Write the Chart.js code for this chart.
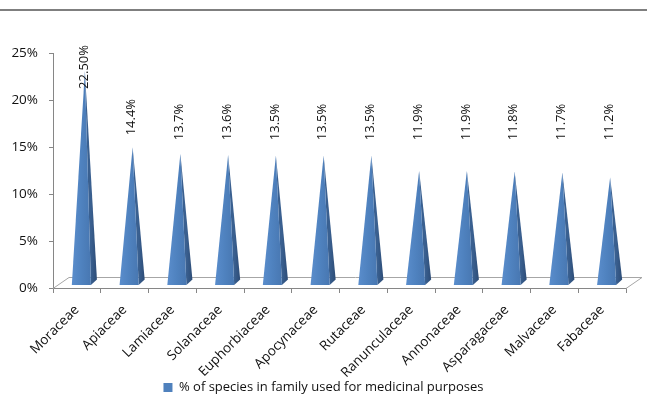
<!DOCTYPE html>
<html>
<head>
<meta charset="utf-8">
<script src="https://cdn.jsdelivr.net/npm/chart.js@4/dist/chart.umd.min.js"></script>
<style>
  html, body { margin: 0; padding: 0; background: #ffffff; }
  #wrap { position: relative; width: 647px; height: 396px; overflow: hidden; }
  #rule { position: absolute; left: 0; top: 9px; width: 647px; height: 2px; background: #7f7f7f; }
  canvas { display: block; }
</style>
</head>
<body>
<div id="wrap">
  <canvas id="chart" width="647" height="396"></canvas>
  <div id="rule"></div>
</div>
<script>
// Plant families and the share of their species used medicinally (%)
const families = ['Moraceae', 'Apiaceae', 'Lamiaceae', 'Solanaceae', 'Euphorbiaceae', 'Apocynaceae',
  'Rutaceae', 'Ranunculaceae', 'Annonaceae', 'Asparagaceae', 'Malvaceae', 'Fabaceae'];
const medicinalShare = [22.5, 14.4, 13.7, 13.6, 13.5, 13.5, 13.5, 11.9, 11.9, 11.8, 11.7, 11.2];
const shareLabels = ['22.50%', '14.4%', '13.7%', '13.6%', '13.5%', '13.5%', '13.5%', '11.9%', '11.9%', '11.8%', '11.7%', '11.2%'];
const yTicks = [0, 5, 10, 15, 20, 25];
const seriesName = '% of species in family used for medicinal purposes';

const FONT = "'Open Sans', 'Liberation Sans', sans-serif";
const AXIS_GREY = '#868686';
const FLOOR_GREY = '#a6a6a6';
const BLUE = '#4F81BD';
const DEPTH = { x: 16, y: 11 };

// Draws the 3-D floor behind the marks and a pyramid for every bar element
const pyramid3d = {
  id: 'pyramid3d',
  beforeDatasetsDraw(chart) {
    const { ctx, chartArea: a } = chart;
    ctx.save();
    ctx.strokeStyle = FLOOR_GREY;
    ctx.lineWidth = 1;
    ctx.beginPath();
    ctx.moveTo(a.left, a.bottom + 0.5);
    ctx.lineTo(a.left + DEPTH.x, a.bottom - DEPTH.y + 0.5);
    ctx.lineTo(a.right + DEPTH.x, a.bottom - DEPTH.y + 0.5);
    ctx.lineTo(a.right, a.bottom + 0.5);
    ctx.stroke();
    ctx.restore();
  },
  afterDatasetsDraw(chart) {
    const { ctx, chartArea: a } = chart;
    const meta = chart.getDatasetMeta(0);
    ctx.save();
    meta.data.forEach((el, i) => {
      const { x, y, base, width } = el.getProps(['x', 'y', 'base', 'width'], true);
      const cx = x + 4.5;
      const frontY = base - 2.5;
      const left = cx - width / 2;
      const right = cx + width / 2;
      const apexX = x + 8;
      const apexY = y - 5.5;

      // right (shadowed) face
      const sg = ctx.createLinearGradient(right, 0, right + 6, 0);
      sg.addColorStop(0, '#3a6090');
      sg.addColorStop(1, '#2d4c76');
      ctx.fillStyle = sg;
      ctx.beginPath();
      ctx.moveTo(right, frontY);
      ctx.lineTo(right + 6, base - 8);
      ctx.lineTo(apexX, apexY);
      ctx.closePath();
      ctx.fill();

      // front face
      const fg = ctx.createLinearGradient(left, 0, right, 0);
      fg.addColorStop(0, '#5a8dcc');
      fg.addColorStop(0.5, '#4f82bf');
      fg.addColorStop(1, '#4877b1');
      ctx.fillStyle = fg;
      ctx.beginPath();
      ctx.moveTo(left, frontY);
      ctx.lineTo(right, frontY);
      ctx.lineTo(apexX, apexY);
      ctx.closePath();
      ctx.fill();

      // value label, written vertically above the tip
      ctx.font = '13px ' + FONT;
      const tw = ctx.measureText(shareLabels[i]).width;
      let cy = Math.min(a.top + 69, apexY - 30);
      cy = Math.max(cy, a.top - 8 + tw / 2);
      ctx.save();
      ctx.translate(apexX - 1, cy);
      ctx.rotate(-Math.PI / 2);
      ctx.fillStyle = '#111111';
      ctx.textAlign = 'center';
      ctx.textBaseline = 'middle';
      ctx.fillText(shareLabels[i], 0, 0);
      ctx.restore();
    });
    ctx.restore();
  }
};

new Chart(document.getElementById('chart'), {
  type: 'bar',
  data: {
    labels: families,
    datasets: [{
      label: seriesName,
      data: medicinalShare,
      backgroundColor: 'rgba(0,0,0,0)',
      borderWidth: 0,
      categoryPercentage: 1,
      barPercentage: 0.4
    }]
  },
  options: {
    responsive: false,
    animation: false,
    devicePixelRatio: 1,
    events: [],
    layout: { padding: { top: 53, left: 0, right: 0, bottom: -8 } },
    plugins: {
      tooltip: { enabled: false },
      legend: {
        position: 'bottom',
        align: 'center',
        labels: {
          boxWidth: 9,
          boxHeight: 9,
          padding: 4,
          color: '#111111',
          font: { family: FONT, size: 13 },
          generateLabels(chart) {
            return Chart.defaults.plugins.legend.labels.generateLabels(chart).map(l =>
              Object.assign(l, { fillStyle: BLUE, strokeStyle: BLUE, lineWidth: 0 }));
          }
        }
      }
    },
    scales: {
      x: {
        type: 'category',
        offset: true,
        grid: { display: true, offset: true, drawOnChartArea: false, drawTicks: true, tickLength: 5, color: AXIS_GREY },
        border: { display: true, color: AXIS_GREY },
        ticks: { autoSkip: false, minRotation: 45, maxRotation: 45, padding: 9, color: '#111111', font: { family: FONT, size: 13.5 } },
        afterFit(s) { s.height = 89; }
      },
      y: {
        min: 0,
        max: 25,
        afterBuildTicks(s) { s.ticks = yTicks.map(v => ({ value: v })); },
        grid: { display: true, drawOnChartArea: false, drawTicks: true, tickLength: 4, color: AXIS_GREY },
        border: { display: true, color: AXIS_GREY },
        ticks: { padding: 11, color: '#111111', font: { family: FONT, size: 13.5 }, callback: v => v + '%' },
        afterFit(s) { s.width = 53; }
      },
      yEdge: {
        position: 'right',
        display: true,
        grid: { display: false },
        border: { display: false },
        ticks: { display: false },
        afterFit(s) { s.width = 21; }
      }
    }
  },
  plugins: [pyramid3d]
});
</script>
</body>
</html>
